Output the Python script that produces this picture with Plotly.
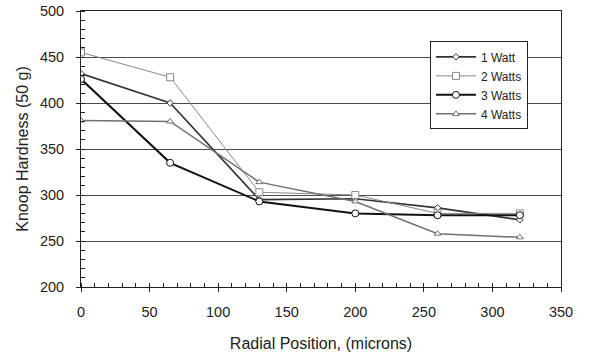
import plotly.graph_objects as go

x_pos = [0, 65, 130, 200, 260, 320]
w1 = [432, 400, 295, 296, 286, 273]
w2 = [455, 428, 303, 300, 280, 280]
w3 = [426, 335, 293, 280, 278, 278]
w4 = [381, 380, 314, 293, 258, 254]

series = [
    ("1 Watt", w1, "#333333", 1.6, "diamond", 5),
    ("2 Watts", w2, "#888888", 1.0, "square", 7),
    ("3 Watts", w3, "#111111", 2.0, "circle", 7),
    ("4 Watts", w4, "#707070", 1.5, "triangle-up", 6),
]

fig = go.Figure()
for name, ys, col, lw, sym, ms in series:
    fig.add_trace(go.Scatter(
        x=x_pos, y=ys, name=name, mode="lines+markers",
        line=dict(color=col, width=lw),
        marker=dict(symbol=sym, size=ms, color="white",
                    line=dict(color=col, width=1)),
    ))
# invisible trace to activate overlay axes for inside major ticks
fig.add_trace(go.Scatter(x=[None], y=[None], xaxis="x2", yaxis="y2",
                         showlegend=False, hoverinfo="skip"))

font = "Liberation Sans, Arial, sans-serif"
axcol = "#222222"
fig.update_layout(
    width=590, height=355,
    margin=dict(l=81, r=29, t=11, b=68),
    paper_bgcolor="white", plot_bgcolor="white",
    font=dict(family=font, size=13.5, color="#222222"),
    showlegend=True,
    legend=dict(x=0.727, y=0.89, xanchor="left", yanchor="top",
                bordercolor="#222222", borderwidth=1, bgcolor="white",
                font=dict(size=12), tracegroupgap=0, itemwidth=40),
    xaxis=dict(range=[0, 350], dtick=50, showgrid=False, zeroline=False,
               automargin=False,
               showline=True, linecolor=axcol, linewidth=1, mirror=True,
               ticks="outside", ticklen=4, tickcolor=axcol,
               tickfont=dict(size=14.5), ticklabelstandoff=8,
               minor=dict(dtick=10, ticks="inside", ticklen=4, tickcolor=axcol),
               title=dict(text="Radial Position, (microns)", standoff=18)),
    yaxis=dict(range=[200, 500], dtick=50, showgrid=True, gridcolor="#4a4a4a",
               gridwidth=1, zeroline=False, automargin=False,
               showline=True, linecolor=axcol, linewidth=1, mirror=True,
               ticks="outside", ticklen=4, tickcolor=axcol,
               tickfont=dict(size=14.5), ticklabelstandoff=9,
               minor=dict(dtick=10, ticks="inside", ticklen=4, tickcolor=axcol),
               title=dict(text="Knoop Hardness (50 g)", standoff=7)),
    xaxis2=dict(range=[0, 350], dtick=50, overlaying="x", showgrid=False,
                zeroline=False, showticklabels=False, ticks="inside",
                ticklen=4, tickcolor=axcol, automargin=False, side="bottom"),
    yaxis2=dict(range=[200, 500], dtick=50, overlaying="y", showgrid=False,
                zeroline=False, showticklabels=False, ticks="inside",
                ticklen=4, tickcolor=axcol, automargin=False, side="left"),
)

fig.write_html("out.html", post_script="document.body.style.margin='0';",
               config={"displayModeBar": False})
